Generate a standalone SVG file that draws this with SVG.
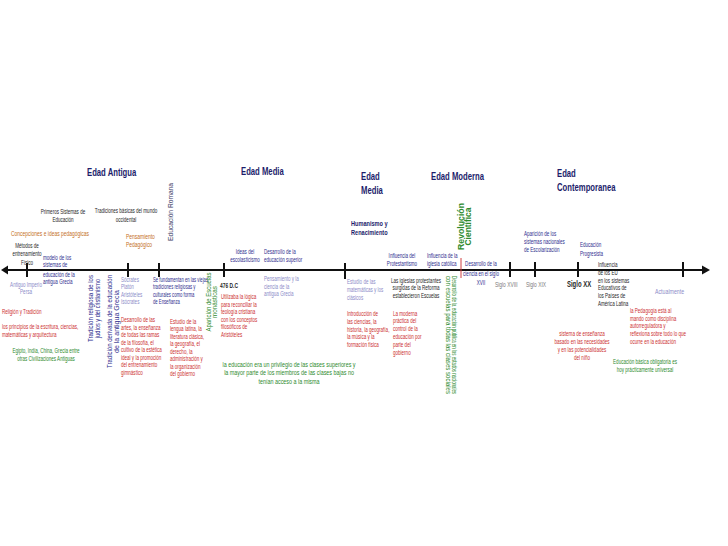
<svg xmlns="http://www.w3.org/2000/svg" width="728" height="546" viewBox="0 0 728 546">
<style>
text{font-family:"Liberation Sans",Arial,sans-serif;font-size:7px}
.h{font-weight:bold;font-size:11px;fill:#1d1d6b}
.hs{font-weight:bold;font-size:8px;fill:#1d1d6b}
.nv{fill:#2e2e8e}
.gb{fill:#8b8bc8}
.rd{fill:#cc3030}
.gn{fill:#2e8b2e}
.or{fill:#c46f1c;font-size:7.5px}
.bk{fill:#262626}
.gy{fill:#7a7a7a;font-size:7.5px}
.m{text-anchor:middle}
.vt{font-size:7px}
.tick{stroke:#111;stroke-width:2}
</style>
<rect width="728" height="546" fill="#fff"/>
<g id="connectors">
<line x1="6" y1="270" x2="704" y2="270" stroke="#111" stroke-width="2"/>
<polygon points="1,270 8,265.5 8,274.5" fill="#111"/>
<polygon points="710,270 702,265.5 702,274.5" fill="#111"/>
<line class="tick" x1="27" y1="263" x2="27" y2="277"/>
<line class="tick" x1="128" y1="263" x2="128" y2="277"/>
<line class="tick" x1="159" y1="263" x2="159" y2="277"/>
<line class="tick" x1="224" y1="263" x2="224" y2="277"/>
<line class="tick" x1="345" y1="263" x2="345" y2="279"/>
<line class="tick" x1="510" y1="262" x2="510" y2="277"/>
<line class="tick" x1="535" y1="262" x2="535" y2="277"/>
<line class="tick" x1="578" y1="262" x2="578" y2="277"/>
<line class="tick" x1="683" y1="262" x2="683" y2="277"/>
<line x1="461" y1="258" x2="461" y2="278" stroke="#d04040" stroke-width="1"/>
</g>
<g id="n-edad-antigua" transform="translate(87,0) scale(0.7,1)"><text class="h" y="176">Edad Antigua</text></g>
<g id="n-educacion-romana"><text class="m vt" style="fill:#3c3c66" transform="translate(173,212) rotate(-90)" textLength="58" lengthAdjust="spacingAndGlyphs">Educación Romana</text></g>
<g id="n-primeros" transform="translate(63,0) scale(0.65,1)"><text class="bk m"><tspan x="0" y="214">Primeros Sistemas de</tspan><tspan x="0" y="222.5">Educación</tspan></text></g>
<g id="n-tradiciones" transform="translate(126,0) scale(0.65,1)"><text class="bk m"><tspan x="0" y="213">Tradiciones básicas del mundo</tspan><tspan x="0" y="222">occidental</tspan></text></g>
<g id="n-concepciones" transform="translate(11,0) scale(0.66,1)"><text class="or"><tspan x="0" y="236">Concepciones e ideas pedagógicas</tspan></text></g>
<g id="n-pensamiento-ped" transform="translate(126,0) scale(0.66,1)"><text class="or"><tspan x="0" y="239.5">Pensamiento</tspan><tspan x="0" y="247.5">Pedagógico</tspan></text></g>
<g id="n-metodos" transform="translate(27,0) scale(0.65,1)"><text class="bk m"><tspan x="0" y="248">Métodos de</tspan><tspan x="0" y="256.5">entrenamiento</tspan><tspan x="0" y="265">Físico</tspan></text></g>
<g id="n-modelo" transform="translate(43,0) scale(0.65,1)"><text class="nv"><tspan x="0" y="260">modelo de los</tspan><tspan x="0" y="267.5">sistemas de</tspan><tspan x="0" y="277">educación de la</tspan><tspan x="0" y="284.5">antigua Grecia</tspan></text></g>
<g id="n-persa" transform="translate(26,0) scale(0.65,1)"><text class="gb m"><tspan x="0" y="287">Antiguo Imperio</tspan><tspan x="0" y="294">Persa</tspan></text></g>
<g id="n-religion" transform="translate(2,0) scale(0.65,1)"><text class="rd"><tspan x="0" y="314">Religión y Tradición</tspan></text></g>
<g id="n-principios" transform="translate(2,0) scale(0.65,1)"><text class="rd"><tspan x="0" y="329">los principios de la escritura, ciencias,</tspan><tspan x="0" y="337">matemáticas y arquitectura</tspan></text></g>
<g id="n-egipto" transform="translate(46,0) scale(0.65,1)"><text class="gn m"><tspan x="0" y="353">Egipto, India, China, Grecia entre</tspan><tspan x="0" y="361.5">otras Civilizaciones Antiguas</tspan></text></g>
<g id="n-trad-religiosa">
<text class="nv m vt" transform="translate(93,308.5) rotate(-90)" textLength="67" lengthAdjust="spacingAndGlyphs">Tradición religiosa de los</text>
<text class="nv m vt" transform="translate(99.5,308.5) rotate(-90)" textLength="59" lengthAdjust="spacingAndGlyphs">judíos y del cristianismo</text>
</g>
<g id="n-trad-derivada">
<text class="nv m vt" transform="translate(112,321.5) rotate(-90)" textLength="93" lengthAdjust="spacingAndGlyphs">Tradición derivada de la educación</text>
<text class="nv m vt" transform="translate(118.5,321.5) rotate(-90)" textLength="63" lengthAdjust="spacingAndGlyphs">de la antigua Grecia</text>
</g>
<g id="n-socrates" transform="translate(121,0) scale(0.65,1)"><text class="gb"><tspan x="0" y="282">Sócrates</tspan><tspan x="0" y="289.5">Platón</tspan><tspan x="0" y="297">Aristóteles</tspan><tspan x="0" y="304.5">Isócrates</tspan></text></g>
<g id="n-fundamentan" transform="translate(153,0) scale(0.6,1)"><text class="nv"><tspan x="0" y="282">Se fundamentan en las viejas</tspan><tspan x="0" y="289.5">tradiciones religiosas y</tspan><tspan x="0" y="297">culturales como forma</tspan><tspan x="0" y="304.5">de Enseñanza</tspan></text></g>
<g id="n-desarrollo-artes" transform="translate(121,0) scale(0.65,1)"><text class="rd"><tspan x="0" y="322.5">Desarrollo de las</tspan><tspan x="0" y="330">artes, la enseñanza</tspan><tspan x="0" y="337.5">de todas las ramas</tspan><tspan x="0" y="345">de la filosofía, el</tspan><tspan x="0" y="352.5">cultivo de la estética</tspan><tspan x="0" y="360">ideal y la promoción</tspan><tspan x="0" y="367.5">del entrenamiento</tspan><tspan x="0" y="375">gimnástico</tspan></text></g>
<g id="n-estudio-latina" transform="translate(170,0) scale(0.65,1)"><text class="rd"><tspan x="0" y="324">Estudio de la</tspan><tspan x="0" y="331.5">lengua latina, la</tspan><tspan x="0" y="339">literatura clásica,</tspan><tspan x="0" y="346.5">la geografía, el</tspan><tspan x="0" y="354">derecho, la</tspan><tspan x="0" y="361.5">administración y</tspan><tspan x="0" y="369">la organización</tspan><tspan x="0" y="376.5">del gobierno</tspan></text></g>
<g id="n-monasticas">
<text class="gn m vt" transform="translate(210.5,302) rotate(-90)" textLength="59" lengthAdjust="spacingAndGlyphs">Aparición de Escuelas</text>
<text class="gn m vt" transform="translate(216.5,302) rotate(-90)" textLength="32" lengthAdjust="spacingAndGlyphs">monásticas</text>
</g>
<g id="n-edad-media" transform="translate(241,0) scale(0.7,1)"><text class="h" y="175">Edad Media</text></g>
<g id="n-escolasticismo" transform="translate(245,0) scale(0.65,1)"><text class="nv m"><tspan x="0" y="254.5">Ideas del</tspan><tspan x="0" y="262.5">escolasticismo</tspan></text></g>
<g id="n-educ-superior" transform="translate(264,0) scale(0.65,1)"><text class="nv"><tspan x="0" y="254.5">Desarrollo de la</tspan><tspan x="0" y="262.5">educación superior</tspan></text></g>
<g id="n-476" transform="translate(220,0) scale(0.7,1)"><text class="bk" style="font-weight:bold" y="288">476 D.C</text></g>
<g id="n-utilizaba" transform="translate(221,0) scale(0.65,1)"><text class="rd"><tspan x="0" y="299.5">Utilizaba la lógica</tspan><tspan x="0" y="307">para reconciliar la</tspan><tspan x="0" y="314.5">teología cristiana</tspan><tspan x="0" y="322">con los conceptos</tspan><tspan x="0" y="329.5">filosóficos de</tspan><tspan x="0" y="337">Aristóteles</tspan></text></g>
<g id="n-pensamiento-grecia" transform="translate(264,0) scale(0.65,1)"><text class="gb"><tspan x="0" y="281.5">Pensamiento y la</tspan><tspan x="0" y="289">ciencia de la</tspan><tspan x="0" y="296.5">antigua Grecia</tspan></text></g>
<g id="n-privilegio" transform="translate(289,0) scale(0.77,1)"><text class="gn m"><tspan x="0" y="367">la educación era un privilegio de las clases superiores y</tspan><tspan x="0" y="375.5">la mayor parte de los miembros de las clases bajas no</tspan><tspan x="0" y="384">tenían acceso a la misma</tspan></text></g>
<g id="n-edad-media-2" transform="translate(361,0) scale(0.7,1)"><text class="h"><tspan x="0" y="180">Edad</tspan><tspan x="0" y="194">Media</tspan></text></g>
<g id="n-humanismo" transform="translate(351,0) scale(0.7,1)"><text class="hs"><tspan x="0" y="226">Humanismo y</tspan><tspan x="0" y="235">Renacimiento</tspan></text></g>
<g id="n-edad-moderna" transform="translate(431,0) scale(0.7,1)"><text class="h" y="180">Edad Moderna</text></g>
<g id="n-revolucion">
<text class="gn m" style="font-weight:bold;font-size:8.5px" transform="translate(463.5,226.5) rotate(-90)" textLength="47" lengthAdjust="spacingAndGlyphs">Revolución</text>
<text class="gn m" style="font-weight:bold;font-size:8.5px" transform="translate(470.5,226.5) rotate(-90)" textLength="38" lengthAdjust="spacingAndGlyphs">Científica</text>
</g>
<g id="n-protestantismo" transform="translate(402,0) scale(0.65,1)"><text class="nv m"><tspan x="0" y="258.5">Influencia del</tspan><tspan x="0" y="266.5">Protestantismo</tspan></text></g>
<g id="n-catolica" transform="translate(427,0) scale(0.65,1)"><text class="nv"><tspan x="0" y="258.5">Influencia de la</tspan><tspan x="0" y="266.5">iglesia católica</tspan></text></g>
<g id="n-ciencia-xvii" transform="translate(481,0) scale(0.65,1)"><text class="nv m"><tspan x="0" y="266.5">Desarrollo de la</tspan><tspan x="0" y="276.5">ciencia en el siglo</tspan><tspan x="0" y="285">XVII</tspan></text></g>
<g id="n-matematicas" transform="translate(347,0) scale(0.65,1)"><text class="gb"><tspan x="0" y="284">Estudio de las</tspan><tspan x="0" y="292">matemáticas y los</tspan><tspan x="0" y="300">clásicos</tspan></text></g>
<g id="n-iglesias" transform="translate(416,0) scale(0.65,1)"><text class="bk m"><tspan x="0" y="283">Las iglesias protestantes</tspan><tspan x="0" y="290.5">surgidas de la Reforma</tspan><tspan x="0" y="298">establecieron Escuelas</tspan></text></g>
<g id="n-introduccion" transform="translate(347,0) scale(0.65,1)"><text class="rd"><tspan x="0" y="316.5">Introducción de</tspan><tspan x="0" y="324">las ciencias, la</tspan><tspan x="0" y="332">historia, la geografía,</tspan><tspan x="0" y="339.5">la música y la</tspan><tspan x="0" y="347.5">formación física</tspan></text></g>
<g id="n-moderna" transform="translate(393,0) scale(0.65,1)"><text class="rd"><tspan x="0" y="316">La moderna</tspan><tspan x="0" y="323.5">práctica del</tspan><tspan x="0" y="331.5">control de la</tspan><tspan x="0" y="339">educación por</tspan><tspan x="0" y="347">parte del</tspan><tspan x="0" y="355">gobierno</tspan></text></g>
<g id="n-educ-publica">
<text class="gn m" style="font-size:6.5px" transform="translate(452,335) rotate(90)" textLength="118" lengthAdjust="spacingAndGlyphs">Desarrollo de la educación pública en los estados nacionales</text>
<text class="gn m" style="font-size:6.5px" transform="translate(445.5,335) rotate(90)" textLength="118" lengthAdjust="spacingAndGlyphs">con escuelas para todas las clases sociales</text>
</g>
<g id="n-siglo-xviii" transform="translate(495,0) scale(0.65,1)"><text class="gy" y="287">Siglo XVIII</text></g>
<g id="n-sistemas-nacionales" transform="translate(524,0) scale(0.65,1)"><text class="nv"><tspan x="0" y="236.5">Aparición de los</tspan><tspan x="0" y="244.5">sistemas nacionales</tspan><tspan x="0" y="252.5">de Escolarización</tspan></text></g>
<g id="n-siglo-xix" transform="translate(526,0) scale(0.65,1)"><text class="gy" y="287">Siglo XIX</text></g>
<g id="n-contemporanea" transform="translate(557,0) scale(0.7,1)"><text class="h"><tspan x="0" y="177.5">Edad</tspan><tspan x="0" y="191">Contemporanea</tspan></text></g>
<g id="n-progresista" transform="translate(580,0) scale(0.65,1)"><text class="nv"><tspan x="0" y="247.5">Educación</tspan><tspan x="0" y="256">Progresista</tspan></text></g>
<g id="n-siglo-xx" transform="translate(567,0) scale(0.7,1)"><text class="bk" style="font-weight:bold;font-size:8.5px" y="287">Siglo XX</text></g>
<g id="n-influencia-eu" transform="translate(598,0) scale(0.65,1)"><text class="bk"><tspan x="0" y="267.5">Influencia</tspan><tspan x="0" y="275">de los EU</tspan><tspan x="0" y="283">en los sistemas</tspan><tspan x="0" y="290.5">Educativos de</tspan><tspan x="0" y="298">los Países de</tspan><tspan x="0" y="306">América Latina</tspan></text></g>
<g id="n-actualmente" transform="translate(655,0) scale(0.75,1)"><text class="gb" y="294">Actualmente</text></g>
<g id="n-pedagogia" transform="translate(630,0) scale(0.65,1)"><text class="rd"><tspan x="0" y="313">la Pedagogía está al</tspan><tspan x="0" y="321">mando como disciplina</tspan><tspan x="0" y="328.5">autorreguladora y</tspan><tspan x="0" y="336.5">reflexiona sobre todo lo que</tspan><tspan x="0" y="344.5">ocurre en la educación</tspan></text></g>
<g id="n-ensenanza" transform="translate(582,0) scale(0.65,1)"><text class="rd m"><tspan x="0" y="336.5">sistema de enseñanza</tspan><tspan x="0" y="344.5">basado en las necesidades</tspan><tspan x="0" y="352.5">y en las potencialidades</tspan><tspan x="0" y="360">del niño</tspan></text></g>
<g id="n-basica" transform="translate(645,0) scale(0.65,1)"><text class="gn m"><tspan x="0" y="364">Educación básica obligatoria es</tspan><tspan x="0" y="372.5">hoy prácticamente universal</tspan></text></g>
</svg>
